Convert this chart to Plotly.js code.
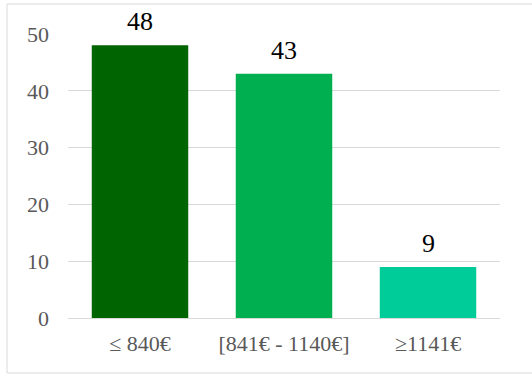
<!DOCTYPE html>
<html>
<head>
<meta charset="utf-8">
<script src="https://cdn.plot.ly/plotly-3.0.1.min.js"></script>
<style>html,body{margin:0;padding:0;background:#fff;}#chart{width:532px;height:376px;}</style>
</head>
<body>
<div id="chart"></div>
<script>
const categories = ["≤ 840€", "[841€ - 1140€]", "≥1141€"];
const values = [48, 43, 9];
const barColors = ["#006400", "#00b050", "#00cc99"];
const yTicks = [0, 10, 20, 30, 40, 50];

const SERIF = "Liberation Serif";

const trace = {
  type: "bar",
  x: categories,
  y: values,
  marker: { color: barColors },
  hoverinfo: "none"
};

const annotations = categories.map((c, i) => ({
  x: c, y: values[i], xref: "x", yref: "y",
  text: String(values[i]), showarrow: false,
  yanchor: "bottom", yshift: 7,
  font: { family: SERIF, size: 26, color: "#000000" }
}));

const layout = {
  width: 532, height: 376,
  margin: { l: 68, r: 32, t: 34, b: 58 },
  paper_bgcolor: "#ffffff", plot_bgcolor: "#ffffff",
  showlegend: false,
  bargap: 0.33,
  font: { family: SERIF, color: "#595959" },
  xaxis: {
    type: "category",
    tickfont: { family: SERIF, size: 22, color: "#595959" },
    showgrid: false, showline: false, ticks: "", zeroline: false,
    ticklabelstandoff: 10
  },
  yaxis: {
    range: [0, 50],
    tickvals: yTicks,
    ticktext: yTicks.map(String),
    tickfont: { family: SERIF, size: 22, color: "#595959" },
    showgrid: true, gridcolor: "#d9d9d9", gridwidth: 1,
    zeroline: true, zerolinecolor: "#d9d9d9", zerolinewidth: 1,
    showline: false, ticks: "", ticklabelstandoff: 18
  },
  annotations: annotations,
  shapes: [{
    type: "rect", xref: "paper", yref: "paper",
    x0: -0.1412, x1: 1.078, y0: -0.1937, y1: 1.1056,
    line: { color: "#d9d9d9", width: 1 }, fillcolor: "rgba(0,0,0,0)", layer: "below"
  }]
};

Plotly.newPlot("chart", [trace], layout, { displayModeBar: false, staticPlot: true });
</script>
</body>
</html>
